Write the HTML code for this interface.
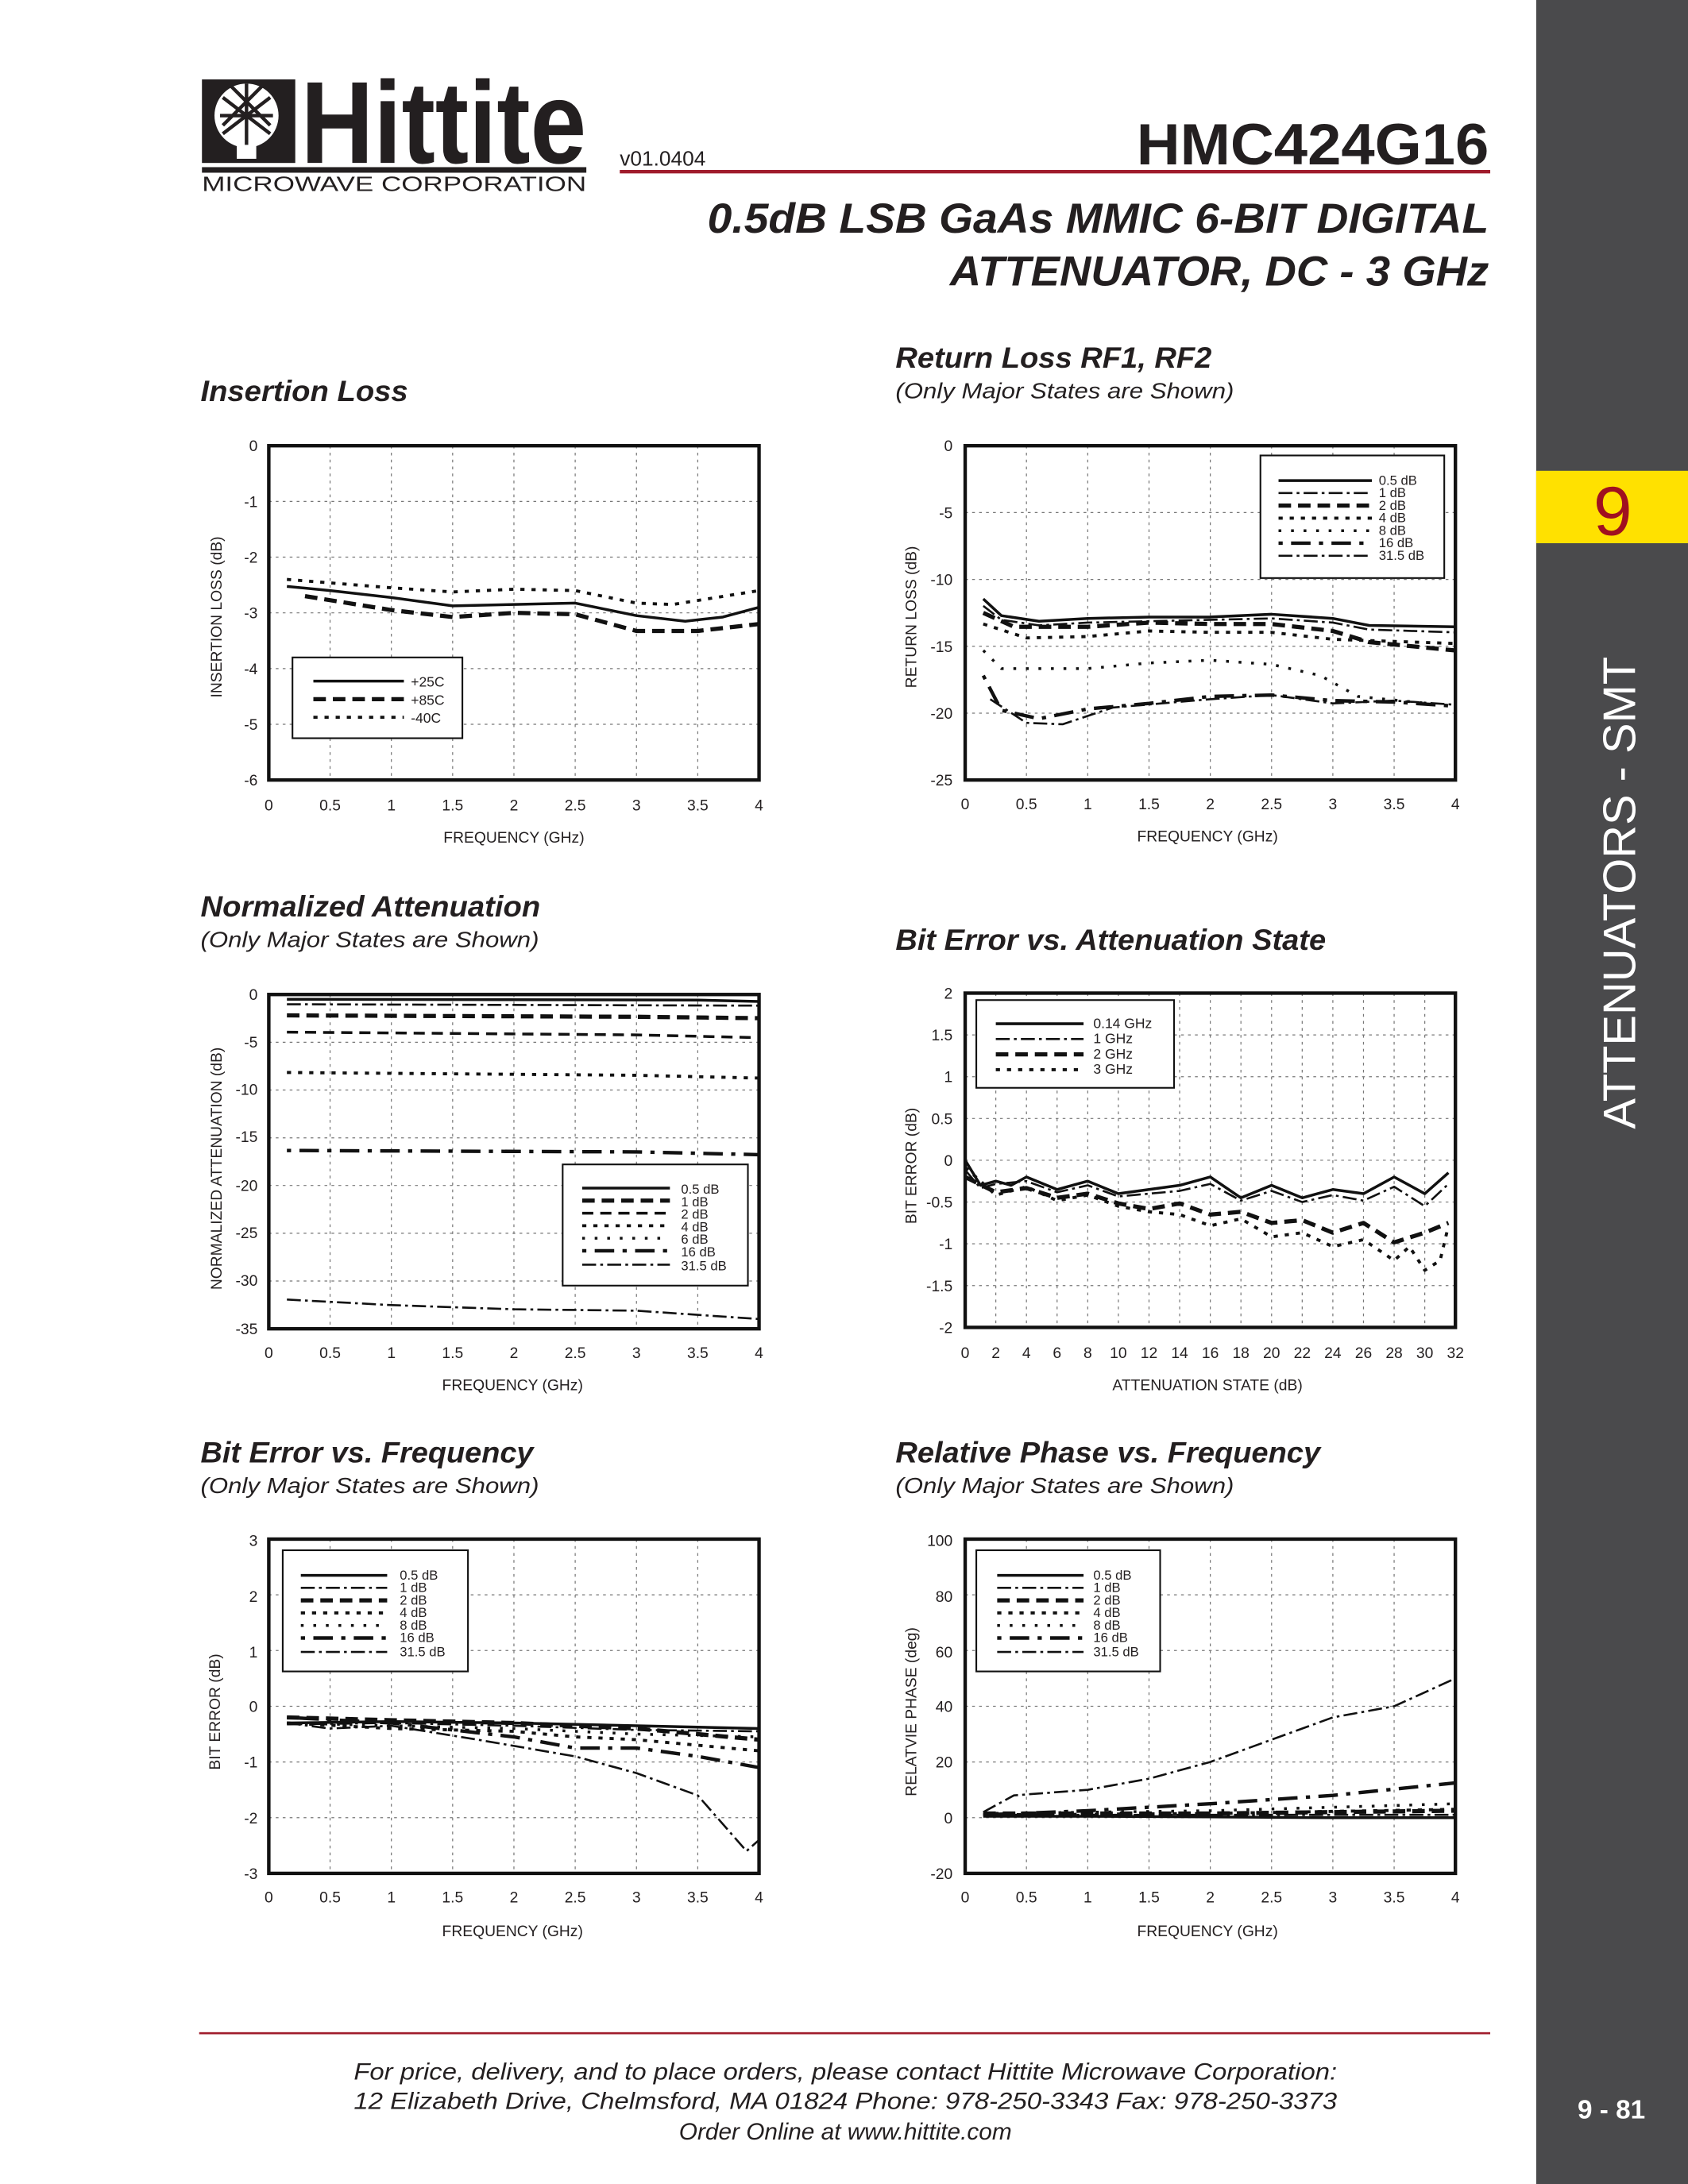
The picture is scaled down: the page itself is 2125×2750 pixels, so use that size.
<!DOCTYPE html>
<html><head><meta charset="utf-8"><style>
html,body{margin:0;padding:0;background:#fff}
svg{display:block}
text{font-family:"Liberation Sans",Arial,sans-serif}
.g{stroke:#777;stroke-width:0.7;stroke-dasharray:2 3;fill:none}
.b{fill:none;stroke:#111;stroke-width:2.5}
.lb{fill:#fff;stroke:#111;stroke-width:1.2}
.s,.dd,.hv,.da,.dt,.ds,.d16{fill:none;stroke:#111;stroke-linejoin:round}
.s{stroke-width:2}
.dd{stroke-width:1.5;stroke-dasharray:10 3 2 3}
.hv{stroke-width:3;stroke-dasharray:9 5}
.da{stroke-width:2;stroke-dasharray:8 5}
.dt{stroke-width:2.2;stroke-dasharray:3 5}
.ds{stroke-width:2;stroke-dasharray:2 7}
.d16{stroke-width:2.5;stroke-dasharray:3 6 14 6}
</style></head><body>
<svg width="2125" height="2750" viewBox="0 0 1212 1568" preserveAspectRatio="none" xmlns="http://www.w3.org/2000/svg">
<rect x="0" y="0" width="1212" height="1568" fill="#fff"/>
<rect x="1103" y="0" width="109" height="1568" fill="#4a4a4c"/>
<rect x="1103" y="338" width="109" height="52" fill="#ffe100"/>
<text x="1158" y="384" font-size="50" fill="#a01020" text-anchor="middle">9</text>
<text transform="translate(1174,641) rotate(-90)" font-size="33" fill="#fff" text-anchor="middle">ATTENUATORS - SMT</text>
<text x="1157" y="1521" font-size="19" font-weight="bold" fill="#fff" text-anchor="middle">9 - 81</text>
<!-- logo -->
<rect x="145" y="57" width="67" height="60" fill="#231f20"/>
<circle cx="177" cy="83" r="23" fill="#fff"/>
<path d="M160 70 L194 96 M194 70 L160 96 M166 62 L194 90 M188 62 L160 90 M158 83 L196 83 M177 60 L177 106" stroke="#231f20" stroke-width="2.5" fill="none"/>
<rect x="170" y="104" width="14" height="10" fill="#fff"/>
<text x="216" y="117" font-size="84" font-weight="bold" fill="#231f20" textLength="205" lengthAdjust="spacingAndGlyphs">Hittite</text>
<rect x="145" y="120" width="276" height="4" fill="#231f20"/>
<text x="145" y="137" font-size="15" fill="#231f20" textLength="276" lengthAdjust="spacingAndGlyphs">MICROWAVE CORPORATION</text>
<text x="445" y="119" font-size="15" fill="#231f20">v01.0404</text>
<text x="1069" y="118" font-size="42" font-weight="bold" fill="#231f20" text-anchor="end" textLength="253" lengthAdjust="spacingAndGlyphs">HMC424G16</text>
<rect x="445" y="122" width="625" height="2.5" fill="#a01c2c"/>
<text x="1069" y="167" font-size="30" font-weight="bold" font-style="italic" fill="#231f20" text-anchor="end" textLength="561" lengthAdjust="spacingAndGlyphs">0.5dB LSB GaAs MMIC 6-BIT DIGITAL</text>
<text x="1069" y="205" font-size="30" font-weight="bold" font-style="italic" fill="#231f20" text-anchor="end" textLength="387" lengthAdjust="spacingAndGlyphs">ATTENUATOR, DC - 3 GHz</text>
<g font-style="italic" fill="#231f20">
<text x="144" y="288" font-size="21" font-weight="bold" textLength="149" lengthAdjust="spacingAndGlyphs">Insertion Loss</text>
<text x="643" y="264" font-size="21" font-weight="bold" textLength="227" lengthAdjust="spacingAndGlyphs">Return Loss RF1, RF2</text>
<text x="643" y="286" font-size="16" textLength="243" lengthAdjust="spacingAndGlyphs">(Only Major States are Shown)</text>
<text x="144" y="658" font-size="21" font-weight="bold" textLength="244" lengthAdjust="spacingAndGlyphs">Normalized Attenuation</text>
<text x="144" y="680" font-size="16" textLength="243" lengthAdjust="spacingAndGlyphs">(Only Major States are Shown)</text>
<text x="643" y="682" font-size="21" font-weight="bold" textLength="309" lengthAdjust="spacingAndGlyphs">Bit Error vs. Attenuation State</text>
<text x="144" y="1050" font-size="21" font-weight="bold" textLength="239" lengthAdjust="spacingAndGlyphs">Bit Error vs. Frequency</text>
<text x="144" y="1072" font-size="16" textLength="243" lengthAdjust="spacingAndGlyphs">(Only Major States are Shown)</text>
<text x="643" y="1050" font-size="21" font-weight="bold" textLength="305" lengthAdjust="spacingAndGlyphs">Relative Phase vs. Frequency</text>
<text x="643" y="1072" font-size="16" textLength="243" lengthAdjust="spacingAndGlyphs">(Only Major States are Shown)</text>
</g>
<rect x="143" y="1459" width="927" height="1.5" fill="#a01c2c"/>
<g font-size="17" font-style="italic" fill="#231f20" text-anchor="middle">
<text x="607" y="1493" textLength="706" lengthAdjust="spacingAndGlyphs">For price, delivery, and to place orders, please contact Hittite Microwave Corporation:</text>
<text x="607" y="1514" textLength="706" lengthAdjust="spacingAndGlyphs">12 Elizabeth Drive, Chelmsford, MA 01824 Phone: 978-250-3343  Fax: 978-250-3373</text>
<text x="607" y="1536">Order Online at www.hittite.com</text>
</g>

<!-- GRIDS -->
<path class="g" d="M237 320V560M281 320V560M325 320V560M369 320V560M413 320V560M457 320V560M501 320V560M193 360H545M193 400H545M193 440H545M193 480H545M193 520H545"/>
<path class="g" d="M737 320V560M781 320V560M825 320V560M869 320V560M913 320V560M957 320V560M1001 320V560M693 368H1045M693 416H1045M693 464H1045M693 512H1045"/>
<path class="g" d="M237 714V954M281 714V954M325 714V954M369 714V954M413 714V954M457 714V954M501 714V954M193 748.3H545M193 782.6H545M193 816.9H545M193 851.1H545M193 885.4H545M193 919.7H545"/>
<path class="g" d="M715 713V953M737 713V953M759 713V953M781 713V953M803 713V953M825 713V953M847 713V953M869 713V953M891 713V953M913 713V953M935 713V953M957 713V953M979 713V953M1001 713V953M1023 713V953M693 743H1045M693 773H1045M693 803H1045M693 833H1045M693 863H1045M693 893H1045M693 923H1045"/>
<path class="g" d="M237 1105V1345M281 1105V1345M325 1105V1345M369 1105V1345M413 1105V1345M457 1105V1345M501 1105V1345M193 1145H545M193 1185H545M193 1225H545M193 1265H545M193 1305H545"/>
<path class="g" d="M737 1105V1345M781 1105V1345M825 1105V1345M869 1105V1345M913 1105V1345M957 1105V1345M1001 1105V1345M693 1145H1045M693 1185H1045M693 1225H1045M693 1265H1045M693 1305H1045"/>

<!-- A series -->
<polyline class="s" points="206,421 237,424 281,429 325,435 369,434 413,433 457,442 492,446 519,443 545,436"/>
<polyline class="hv" points="219,428 281,438 325,443 369,440 413,441 457,453 501,453 545,448"/>
<polyline class="dt" points="206,416 281,422 325,425 369,423 413,424 457,433 483,434 545,424"/>
<!-- B series -->
<polyline class="s" points="706,430 719,442 746,446 781,444 825,443 869,443 913,441 957,444 983,449 1045,450"/>
<polyline class="dd" points="706,435 719,445 746,449 781,447 825,446 869,445 913,444 957,447 983,452 1045,454"/>
<polyline class="hv" points="706,440 728,450 781,450 825,447 869,448 913,448 957,453 983,461 1045,467"/>
<polyline class="dt" points="706,448 737,458 781,457 825,453 869,454 913,454 957,459 1045,462"/>
<polyline class="ds" points="706,467 719,480 781,480 825,476 869,474 913,477 948,485 975,500 1045,507"/>
<polyline class="d16" points="706,485 719,510 746,516 781,509 825,505 869,500 913,499 957,503 1001,504 1045,507"/>
<polyline class="dd" points="711,502 737,519 763,520 799,508 869,502 913,499 957,505 1001,503 1045,506"/>
<!-- C series -->
<polyline class="s" points="206,717.4 501,718 545,719"/>
<polyline class="dd" points="206,721 545,722"/>
<polyline class="hv" points="206,729 457,730 545,731"/>
<polyline class="da" points="206,741 457,743 545,745"/>
<polyline class="dt" points="206,770 457,772 545,774"/>
<polyline class="d16" points="206,826 457,827 545,829"/>
<polyline class="dd" points="206,933 281,937 369,940 457,941 545,947"/>
<!-- D series -->
<polyline class="s" points="693,833 704,851 715,848 726,851 737,845 759,854 781,848 803,857 825,854 847,851 869,845 891,860 913,851 935,860 957,854 979,857 1001,845 1023,857 1040,842"/>
<polyline class="dd" points="693,840 704,853 715,850 737,848 759,856 781,851 803,859 825,857 847,855 869,850 891,862 913,855 935,863 957,858 979,862 1001,852 1023,866 1040,850"/>
<polyline class="hv" points="693,845 715,856 737,853 759,860 781,857 803,864 825,868 847,864 869,872 891,870 913,878 935,876 957,885 979,878 1001,892 1023,885 1040,878"/>
<polyline class="dt" points="693,838 715,858 737,852 759,862 781,858 803,866 825,870 847,872 869,880 891,875 913,888 935,885 957,895 979,890 1001,905 1012,895 1023,912 1034,905 1040,880"/>
<!-- E series -->
<polyline class="s" points="206,1237 281,1236 369,1237 457,1239 545,1241"/>
<polyline class="dd" points="206,1238 281,1237 369,1239 457,1242 545,1243"/>
<polyline class="hv" points="206,1233 281,1235 369,1237 457,1241 501,1245 545,1249"/>
<polyline class="dt" points="206,1237 281,1241 369,1243 413,1247 457,1249 545,1257"/>
<polyline class="ds" points="206,1237 281,1239 369,1241 457,1245 545,1247"/>
<polyline class="d16" points="206,1233 281,1237 369,1247 413,1255 457,1255 501,1261 545,1269"/>
<polyline class="dd" points="206,1237 237,1241 281,1239 343,1249 413,1261 457,1273 501,1289 536,1329 545,1321"/>
<!-- F series -->
<polyline class="s" points="706,1304 781,1304 869,1304.4 957,1305 1045,1305"/>
<polyline class="dd" points="706,1303 1045,1303"/>
<polyline class="hv" points="706,1302 781,1302 869,1302 957,1301 1045,1300"/>
<polyline class="dt" points="706,1303 869,1302 1045,1299"/>
<polyline class="ds" points="706,1302 869,1300 1045,1295"/>
<polyline class="d16" points="706,1303 781,1300 869,1295 957,1289 1045,1280"/>
<polyline class="dd" points="706,1301 728,1289 781,1285 825,1277 869,1265 913,1249 957,1233 1001,1225 1045,1205"/>

<!-- borders -->
<rect class="b" x="193" y="320" width="352" height="240"/>
<rect class="b" x="693" y="320" width="352" height="240"/>
<rect class="b" x="193" y="714" width="352" height="240"/>
<rect class="b" x="693" y="713" width="352" height="240"/>
<rect class="b" x="193" y="1105" width="352" height="240"/>
<rect class="b" x="693" y="1105" width="352" height="240"/>

<!-- legends -->
<rect class="lb" x="210" y="472" width="122" height="58"/>
<line class="s" x1="225" x2="290" y1="489" y2="489"/><line class="hv" x1="225" x2="290" y1="502" y2="502"/><line class="dt" x1="225" x2="290" y1="515" y2="515"/>
<rect class="lb" x="905" y="327" width="132" height="88"/>
<line class="s" x1="918" x2="985" y1="345" y2="345"/><line class="dd" x1="918" x2="985" y1="354" y2="354"/><line class="hv" x1="918" x2="985" y1="363" y2="363"/><line class="dt" x1="918" x2="985" y1="372" y2="372"/><line class="ds" x1="918" x2="985" y1="381" y2="381"/><line class="d16" x1="918" x2="985" y1="390" y2="390"/><line class="dd" x1="918" x2="985" y1="399" y2="399"/>
<rect class="lb" x="404" y="836" width="133" height="87"/>
<line class="s" x1="418" x2="481" y1="853" y2="853"/><line class="hv" x1="418" x2="481" y1="862" y2="862"/><line class="da" x1="418" x2="481" y1="871" y2="871"/><line class="dt" x1="418" x2="481" y1="880" y2="880"/><line class="ds" x1="418" x2="481" y1="889" y2="889"/><line class="d16" x1="418" x2="481" y1="898" y2="898"/><line class="dd" x1="418" x2="481" y1="908" y2="908"/>
<rect class="lb" x="701" y="718" width="142" height="63"/>
<line class="s" x1="715" x2="778" y1="735" y2="735"/><line class="dd" x1="715" x2="778" y1="746" y2="746"/><line class="hv" x1="715" x2="778" y1="757" y2="757"/><line class="dt" x1="715" x2="778" y1="768" y2="768"/>
<rect class="lb" x="203" y="1113" width="133" height="87"/>
<line class="s" x1="216" x2="278" y1="1131" y2="1131"/><line class="dd" x1="216" x2="278" y1="1140" y2="1140"/><line class="hv" x1="216" x2="278" y1="1149" y2="1149"/><line class="dt" x1="216" x2="278" y1="1158" y2="1158"/><line class="ds" x1="216" x2="278" y1="1167" y2="1167"/><line class="d16" x1="216" x2="278" y1="1176" y2="1176"/><line class="dd" x1="216" x2="278" y1="1186" y2="1186"/>
<rect class="lb" x="701" y="1113" width="132" height="87"/>
<line class="s" x1="716" x2="778" y1="1131" y2="1131"/><line class="dd" x1="716" x2="778" y1="1140" y2="1140"/><line class="hv" x1="716" x2="778" y1="1149" y2="1149"/><line class="dt" x1="716" x2="778" y1="1158" y2="1158"/><line class="ds" x1="716" x2="778" y1="1167" y2="1167"/><line class="d16" x1="716" x2="778" y1="1176" y2="1176"/><line class="dd" x1="716" x2="778" y1="1186" y2="1186"/>

<g font-size="11" fill="#231f20">
<g text-anchor="end"><text x="185" y="324">0</text><text x="185" y="364">-1</text><text x="185" y="404">-2</text><text x="185" y="444">-3</text><text x="185" y="484">-4</text><text x="185" y="524">-5</text><text x="185" y="564">-6</text></g>
<g text-anchor="middle"><text x="193" y="582">0</text><text x="237" y="582">0.5</text><text x="281" y="582">1</text><text x="325" y="582">1.5</text><text x="369" y="582">2</text><text x="413" y="582">2.5</text><text x="457" y="582">3</text><text x="501" y="582">3.5</text><text x="545" y="582">4</text>
<text x="369" y="605">FREQUENCY (GHz)</text></g>
<text transform="translate(159,443) rotate(-90)" text-anchor="middle">INSERTION LOSS  (dB)</text>
<text x="295" y="493" font-size="10">+25C</text><text x="295" y="506" font-size="10">+85C</text><text x="295" y="519" font-size="10">-40C</text>
<g text-anchor="end"><text x="684" y="324">0</text><text x="684" y="372">-5</text><text x="684" y="420">-10</text><text x="684" y="468">-15</text><text x="684" y="516">-20</text><text x="684" y="564">-25</text></g>
<g text-anchor="middle"><text x="693" y="581">0</text><text x="737" y="581">0.5</text><text x="781" y="581">1</text><text x="825" y="581">1.5</text><text x="869" y="581">2</text><text x="913" y="581">2.5</text><text x="957" y="581">3</text><text x="1001" y="581">3.5</text><text x="1045" y="581">4</text>
<text x="867" y="604">FREQUENCY (GHz)</text></g>
<text transform="translate(658,443) rotate(-90)" text-anchor="middle">RETURN LOSS  (dB)</text>
<g font-size="9.5"><text x="990" y="348">0.5 dB</text><text x="990" y="357">1 dB</text><text x="990" y="366">2 dB</text><text x="990" y="375">4 dB</text><text x="990" y="384">8 dB</text><text x="990" y="393">16 dB</text><text x="990" y="402">31.5 dB</text></g>
<g text-anchor="end"><text x="185" y="718">0</text><text x="185" y="752">-5</text><text x="185" y="786">-10</text><text x="185" y="820">-15</text><text x="185" y="855">-20</text><text x="185" y="889">-25</text><text x="185" y="923">-30</text><text x="185" y="958">-35</text></g>
<g text-anchor="middle"><text x="193" y="975">0</text><text x="237" y="975">0.5</text><text x="281" y="975">1</text><text x="325" y="975">1.5</text><text x="369" y="975">2</text><text x="413" y="975">2.5</text><text x="457" y="975">3</text><text x="501" y="975">3.5</text><text x="545" y="975">4</text>
<text x="368" y="998">FREQUENCY (GHz)</text></g>
<text transform="translate(159,839) rotate(-90)" text-anchor="middle">NORMALIZED ATTENUATION (dB)</text>
<g font-size="9.5"><text x="489" y="857">0.5 dB</text><text x="489" y="866">1 dB</text><text x="489" y="875">2 dB</text><text x="489" y="884">4 dB</text><text x="489" y="893">6 dB</text><text x="489" y="902">16 dB</text><text x="489" y="912">31.5 dB</text></g>
<g text-anchor="end"><text x="684" y="717">2</text><text x="684" y="747">1.5</text><text x="684" y="777">1</text><text x="684" y="807">0.5</text><text x="684" y="837">0</text><text x="684" y="867">-0.5</text><text x="684" y="897">-1</text><text x="684" y="927">-1.5</text><text x="684" y="957">-2</text></g>
<g text-anchor="middle"><text x="693" y="975">0</text><text x="715" y="975">2</text><text x="737" y="975">4</text><text x="759" y="975">6</text><text x="781" y="975">8</text><text x="803" y="975">10</text><text x="825" y="975">12</text><text x="847" y="975">14</text><text x="869" y="975">16</text><text x="891" y="975">18</text><text x="913" y="975">20</text><text x="935" y="975">22</text><text x="957" y="975">24</text><text x="979" y="975">26</text><text x="1001" y="975">28</text><text x="1023" y="975">30</text><text x="1045" y="975">32</text>
<text x="867" y="998">ATTENUATION STATE (dB)</text></g>
<text transform="translate(658,837) rotate(-90)" text-anchor="middle">BIT ERROR (dB)</text>
<g font-size="10"><text x="785" y="738">0.14 GHz</text><text x="785" y="749">1 GHz</text><text x="785" y="760">2 GHz</text><text x="785" y="771">3 GHz</text></g>
<g text-anchor="end"><text x="185" y="1110">3</text><text x="185" y="1150">2</text><text x="185" y="1190">1</text><text x="185" y="1229">0</text><text x="185" y="1269">-1</text><text x="185" y="1309">-2</text><text x="185" y="1349">-3</text></g>
<g text-anchor="middle"><text x="193" y="1366">0</text><text x="237" y="1366">0.5</text><text x="281" y="1366">1</text><text x="325" y="1366">1.5</text><text x="369" y="1366">2</text><text x="413" y="1366">2.5</text><text x="457" y="1366">3</text><text x="501" y="1366">3.5</text><text x="545" y="1366">4</text>
<text x="368" y="1390">FREQUENCY (GHz)</text></g>
<text transform="translate(158,1229) rotate(-90)" text-anchor="middle">BIT ERROR (dB)</text>
<g font-size="9.5"><text x="287" y="1134">0.5 dB</text><text x="287" y="1143">1 dB</text><text x="287" y="1152">2 dB</text><text x="287" y="1161">4 dB</text><text x="287" y="1170">8 dB</text><text x="287" y="1179">16 dB</text><text x="287" y="1189">31.5 dB</text></g>
<g text-anchor="end"><text x="684" y="1110">100</text><text x="684" y="1150">80</text><text x="684" y="1190">60</text><text x="684" y="1229">40</text><text x="684" y="1269">20</text><text x="684" y="1309">0</text><text x="684" y="1349">-20</text></g>
<g text-anchor="middle"><text x="693" y="1366">0</text><text x="737" y="1366">0.5</text><text x="781" y="1366">1</text><text x="825" y="1366">1.5</text><text x="869" y="1366">2</text><text x="913" y="1366">2.5</text><text x="957" y="1366">3</text><text x="1001" y="1366">3.5</text><text x="1045" y="1366">4</text>
<text x="867" y="1390">FREQUENCY (GHz)</text></g>
<text transform="translate(658,1229) rotate(-90)" text-anchor="middle">RELATVIE PHASE (deg)</text>
<g font-size="9.5"><text x="785" y="1134">0.5 dB</text><text x="785" y="1143">1 dB</text><text x="785" y="1152">2 dB</text><text x="785" y="1161">4 dB</text><text x="785" y="1170">8 dB</text><text x="785" y="1179">16 dB</text><text x="785" y="1189">31.5 dB</text></g>
</g>
</svg>
</body></html>
